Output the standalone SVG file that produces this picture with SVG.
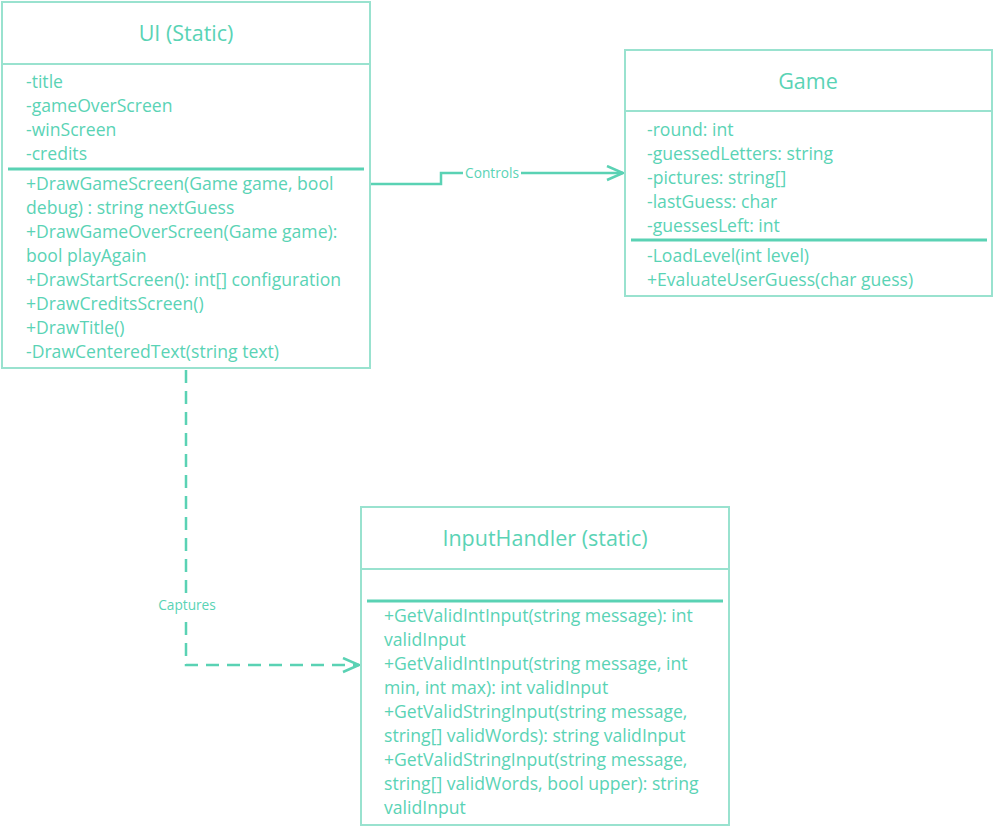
<svg xmlns="http://www.w3.org/2000/svg" width="994" height="830" viewBox="0 0 994 830">
<defs>
<style>
.box{fill:#ffffff;stroke:#99e2cf;stroke-width:2}
.hline{stroke:#99e2cf;stroke-width:2}
.sep{stroke:#5ad2b4;stroke-width:3}
.t{font-family:"Open Sans","Noto Sans",sans-serif;font-size:17.6px;fill:#5ad3b5}
.title{font-family:"Open Sans","Noto Sans",sans-serif;font-size:21.5px;fill:#5ad3b5;text-anchor:middle}
.lbl{font-family:"Open Sans","Noto Sans",sans-serif;font-size:13.7px;fill:#5ad3b5;text-anchor:middle}
.conn{fill:none;stroke:#5ad2b4;stroke-width:2.5}
.dash{stroke-dasharray:13 8}
</style>
<marker id="open" markerWidth="20" markerHeight="20" refX="18" refY="8" orient="auto" markerUnits="userSpaceOnUse">
<path d="M2,1 L18,8 L2,15" fill="none" stroke="#5ad2b4" stroke-width="2.5"/>
</marker>
</defs>

<g id="connectors">
<path class="conn" d="M370,184 H441 V173 H623" marker-end="url(#open)"/>
<rect x="463" y="165" width="58" height="16" fill="#ffffff"/>
<text class="lbl" x="492" y="178">Controls</text>
<path class="conn dash" d="M186,370 V665 H359" marker-end="url(#open)"/>
<rect x="154" y="597" width="66" height="17" fill="#ffffff"/>
<text class="lbl" x="187" y="610">Captures</text>
</g>

<g id="ui">
<rect class="box" x="2" y="2" width="368" height="366"/>
<line class="hline" x1="2" y1="64" x2="370" y2="64"/>
<text class="title" x="186" y="41">UI (Static)</text>
<text class="t" x="26" y="88">-title</text>
<text class="t" x="26" y="112">-gameOverScreen</text>
<text class="t" x="26" y="136">-winScreen</text>
<text class="t" x="26" y="160">-credits</text>
<line class="sep" x1="8" y1="169" x2="364" y2="169"/>
<text class="t" x="26" y="190">+DrawGameScreen(Game game, bool</text>
<text class="t" x="26" y="214">debug) : string nextGuess</text>
<text class="t" x="26" y="238">+DrawGameOverScreen(Game game):</text>
<text class="t" x="26" y="262">bool playAgain</text>
<text class="t" x="26" y="286">+DrawStartScreen(): int[] configuration</text>
<text class="t" x="26" y="310">+DrawCreditsScreen()</text>
<text class="t" x="26" y="334">+DrawTitle()</text>
<text class="t" x="26" y="358">-DrawCenteredText(string text)</text>
</g>

<g id="game">
<rect class="box" x="625" y="50" width="367" height="246"/>
<line class="hline" x1="625" y1="111" x2="992" y2="111"/>
<text class="title" x="808" y="89">Game</text>
<text class="t" x="647" y="136">-round: int</text>
<text class="t" x="647" y="160">-guessedLetters: string</text>
<text class="t" x="647" y="184">-pictures: string[]</text>
<text class="t" x="647" y="208">-lastGuess: char</text>
<text class="t" x="647" y="232">-guessesLeft: int</text>
<line class="sep" x1="631" y1="240" x2="987" y2="240"/>
<text class="t" x="647" y="262">-LoadLevel(int level)</text>
<text class="t" x="647" y="286">+EvaluateUserGuess(char guess)</text>
</g>

<g id="inputhandler">
<rect class="box" x="361" y="507" width="368" height="318"/>
<line class="hline" x1="361" y1="569" x2="729" y2="569"/>
<text class="title" x="545" y="546">InputHandler (static)</text>
<line class="sep" x1="367" y1="601" x2="723" y2="601"/>
<text class="t" x="384" y="622">+GetValidIntInput(string message): int</text>
<text class="t" x="384" y="646">validInput</text>
<text class="t" x="384" y="670">+GetValidIntInput(string message, int</text>
<text class="t" x="384" y="694">min, int max): int validInput</text>
<text class="t" x="384" y="718">+GetValidStringInput(string message,</text>
<text class="t" x="384" y="742">string[] validWords): string validInput</text>
<text class="t" x="384" y="766">+GetValidStringInput(string message,</text>
<text class="t" x="384" y="790">string[] validWords, bool upper): string</text>
<text class="t" x="384" y="814">validInput</text>
</g>
</svg>
